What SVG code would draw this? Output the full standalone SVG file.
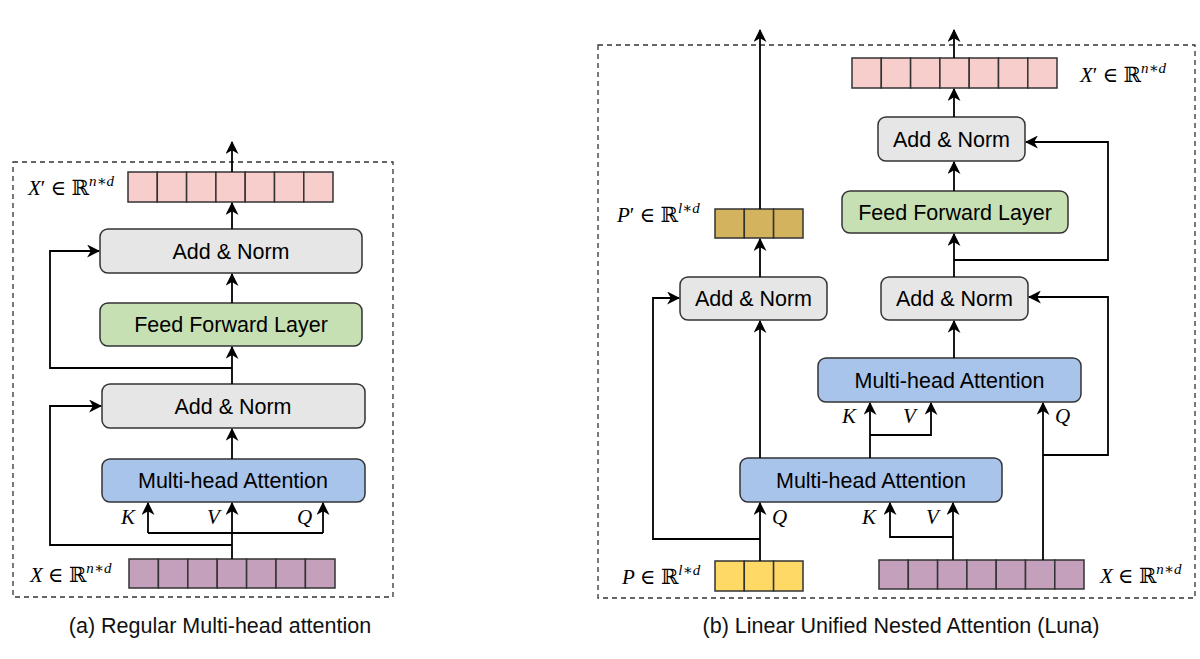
<svg xmlns="http://www.w3.org/2000/svg" width="1200" height="659" viewBox="0 0 1200 659">
<style>
.frame{fill:none;stroke:#333;stroke-width:1.3;stroke-dasharray:5,4}
.box{stroke:#333;stroke-width:1.5}
.gray{fill:#e6e6e6}
.green{fill:#c6e0b4}
.blue{fill:#a9c4eb}
.cell{stroke:#333;stroke-width:1.5}
.pink{fill:#f8cecc}
.purple{fill:#c4a0bc}
.gold{fill:#d4b35f}
.yellow{fill:#ffd966}
.lbl{font-family:"Liberation Sans",Arial,sans-serif;font-size:21.5px;fill:#000;text-anchor:middle}
.cap{font-family:"Liberation Sans",Arial,sans-serif;font-size:21.5px;fill:#111;text-anchor:middle}
.math{font-family:"Liberation Serif","DejaVu Serif",serif;font-size:21px;fill:#000}
.it{font-style:italic}
.conn path{fill:none;stroke:#000;stroke-width:1.8}
</style>
<defs>
<marker id="ah" viewBox="0 0 12 12" refX="11" refY="6" markerWidth="13" markerHeight="13" orient="auto" markerUnits="userSpaceOnUse">
<path d="M0,0 L12,6 L0,12 L3.5,6 z" fill="#000"/>
</marker>
</defs>
<rect width="1200" height="659" fill="#fff"/>

<!-- frames -->
<rect class="frame" x="13" y="162" width="380" height="435"/>
<rect class="frame" x="598" y="45" width="597" height="553"/>

<!-- ===== Left diagram ===== -->
<g id="a-xprime">
<g class="cell pink">
<rect x="128" y="172" width="29.3" height="30"/><rect x="157.3" y="172" width="29.3" height="30"/><rect x="186.6" y="172" width="29.3" height="30"/><rect x="215.9" y="172" width="29.3" height="30"/><rect x="245.2" y="172" width="29.3" height="30"/><rect x="274.5" y="172" width="29.3" height="30"/><rect x="303.8" y="172" width="29.2" height="30"/>
</g>
<text class="math" x="28" y="195"><tspan class="it">X</tspan>′ ∈ <tspan font-family="DejaVu Serif">ℝ</tspan><tspan class="it" font-size="15" dy="-9">n∗d</tspan></text>
</g>
<g id="a-addnorm2"><rect class="box gray" x="100" y="229" width="262" height="44" rx="8"/><text class="lbl" x="231" y="259">Add &amp; Norm</text></g>
<g id="a-ffn"><rect class="box green" x="100" y="303" width="262" height="43" rx="8"/><text class="lbl" x="231" y="332">Feed Forward Layer</text></g>
<g id="a-addnorm1"><rect class="box gray" x="102" y="384" width="263" height="44" rx="8"/><text class="lbl" x="233" y="414">Add &amp; Norm</text></g>
<g id="a-mha"><rect class="box blue" x="102" y="459" width="263" height="43" rx="8"/><text class="lbl" x="233" y="488">Multi-head Attention</text></g>
<g id="a-x">
<g class="cell purple">
<rect x="129" y="559" width="29.4" height="29"/><rect x="158.4" y="559" width="29.4" height="29"/><rect x="187.8" y="559" width="29.4" height="29"/><rect x="217.2" y="559" width="29.4" height="29"/><rect x="246.6" y="559" width="29.4" height="29"/><rect x="276" y="559" width="29.4" height="29"/><rect x="305.4" y="559" width="29.6" height="29"/>
</g>
<text class="math" x="30" y="582"><tspan class="it">X</tspan> ∈ <tspan font-family="DejaVu Serif">ℝ</tspan><tspan class="it" font-size="15" dy="-9">n∗d</tspan></text>
</g>
<g id="a-kvq-labels" class="math it">
<text x="121" y="524">K</text><text x="207" y="524">V</text><text x="297" y="524">Q</text>
</g>

<g id="a-connectors" class="conn">
<path d="M232,559 V503" marker-end="url(#ah)"/>
<path d="M148,533 H323"/>
<path d="M148,533 V503" marker-end="url(#ah)"/>
<path d="M323,533 V503" marker-end="url(#ah)"/>
<path d="M232,545 H50 V406 H101" marker-end="url(#ah)"/>
<path d="M232,459 V429" marker-end="url(#ah)"/>
<path d="M232,384 V347" marker-end="url(#ah)"/>
<path d="M232,368 H50 V251 H99" marker-end="url(#ah)"/>
<path d="M232,303 V274" marker-end="url(#ah)"/>
<path d="M232,229 V203" marker-end="url(#ah)"/>
<path d="M232,172 V142" marker-end="url(#ah)"/>
</g>

<text class="cap" x="220" y="633">(a) Regular Multi-head attention</text>

<!-- ===== Right diagram ===== -->
<g id="b-xprime">
<g class="cell pink">
<rect x="852" y="58" width="29.3" height="30"/><rect x="881.3" y="58" width="29.3" height="30"/><rect x="910.6" y="58" width="29.3" height="30"/><rect x="939.9" y="58" width="29.3" height="30"/><rect x="969.2" y="58" width="29.3" height="30"/><rect x="998.5" y="58" width="29.3" height="30"/><rect x="1027.8" y="58" width="29.2" height="30"/>
</g>
<text class="math" x="1080" y="82"><tspan class="it">X</tspan>′ ∈ <tspan font-family="DejaVu Serif">ℝ</tspan><tspan class="it" font-size="15" dy="-9">n∗d</tspan></text>
</g>
<g id="b-pprime">
<g class="cell gold">
<rect x="715" y="209" width="29.3" height="29"/><rect x="744.3" y="209" width="29.3" height="29"/><rect x="773.6" y="209" width="29.4" height="29"/>
</g>
<text class="math" x="617" y="222"><tspan class="it">P</tspan>′ ∈ <tspan font-family="DejaVu Serif">ℝ</tspan><tspan class="it" font-size="15" dy="-9">l∗d</tspan></text>
</g>
<g id="b-addnorm-top"><rect class="box gray" x="878" y="117" width="147" height="44" rx="8"/><text class="lbl" x="951.5" y="147">Add &amp; Norm</text></g>
<g id="b-ffn"><rect class="box green" x="842" y="191" width="226" height="42" rx="8"/><text class="lbl" x="955" y="220">Feed Forward Layer</text></g>
<g id="b-addnorm-left"><rect class="box gray" x="680" y="277" width="147" height="43" rx="8"/><text class="lbl" x="753.5" y="306">Add &amp; Norm</text></g>
<g id="b-addnorm-right"><rect class="box gray" x="881" y="277" width="147" height="43" rx="8"/><text class="lbl" x="954.5" y="306">Add &amp; Norm</text></g>
<g id="b-mha-upper"><rect class="box blue" x="818" y="358" width="263" height="44" rx="8"/><text class="lbl" x="949.5" y="388">Multi-head Attention</text></g>
<g id="b-mha-lower"><rect class="box blue" x="740" y="458" width="262" height="44" rx="8"/><text class="lbl" x="871" y="488">Multi-head Attention</text></g>
<g id="b-p">
<g class="cell yellow">
<rect x="715" y="561" width="29.3" height="30"/><rect x="744.3" y="561" width="29.3" height="30"/><rect x="773.6" y="561" width="29.4" height="30"/>
</g>
<text class="math" x="622" y="584"><tspan class="it">P</tspan> ∈ <tspan font-family="DejaVu Serif">ℝ</tspan><tspan class="it" font-size="15" dy="-9">l∗d</tspan></text>
</g>
<g id="b-x">
<g class="cell purple">
<rect x="879" y="560" width="29.3" height="29"/><rect x="908.3" y="560" width="29.3" height="29"/><rect x="937.6" y="560" width="29.3" height="29"/><rect x="966.9" y="560" width="29.3" height="29"/><rect x="996.2" y="560" width="29.3" height="29"/><rect x="1025.5" y="560" width="29.3" height="29"/><rect x="1054.8" y="560" width="29.2" height="29"/>
</g>
<text class="math" x="1100" y="583"><tspan class="it">X</tspan> ∈ <tspan font-family="DejaVu Serif">ℝ</tspan><tspan class="it" font-size="15" dy="-9">n∗d</tspan></text>
</g>
<g id="b-kvq-labels" class="math it">
<text x="842" y="423">K</text><text x="903" y="423">V</text><text x="1055" y="423">Q</text>
<text x="772" y="524">Q</text><text x="862" y="524">K</text><text x="926" y="524">V</text>
</g>

<g id="b-connectors" class="conn">
<path d="M760,561 V503" marker-end="url(#ah)"/>
<path d="M760,539 H653 V298 H679" marker-end="url(#ah)"/>
<path d="M760,458 V321" marker-end="url(#ah)"/>
<path d="M760,277 V239" marker-end="url(#ah)"/>
<path d="M760,209 V30" marker-end="url(#ah)"/>
<path d="M953,560 V503" marker-end="url(#ah)"/>
<path d="M953,537 H890 V503" marker-end="url(#ah)"/>
<path d="M870,458 V403" marker-end="url(#ah)"/>
<path d="M870,435 H931 V403" marker-end="url(#ah)"/>
<path d="M1043,560 V403" marker-end="url(#ah)"/>
<path d="M1043,455 H1108 V297 H1029" marker-end="url(#ah)"/>
<path d="M954,358 V321" marker-end="url(#ah)"/>
<path d="M954,277 V234" marker-end="url(#ah)"/>
<path d="M954,260 H1108 V142 H1026" marker-end="url(#ah)"/>
<path d="M954,191 V162" marker-end="url(#ah)"/>
<path d="M954,117 V89" marker-end="url(#ah)"/>
<path d="M954,58 V30" marker-end="url(#ah)"/>
</g>

<text class="cap" x="901" y="633">(b) Linear Unified Nested Attention (Luna)</text>
</svg>
